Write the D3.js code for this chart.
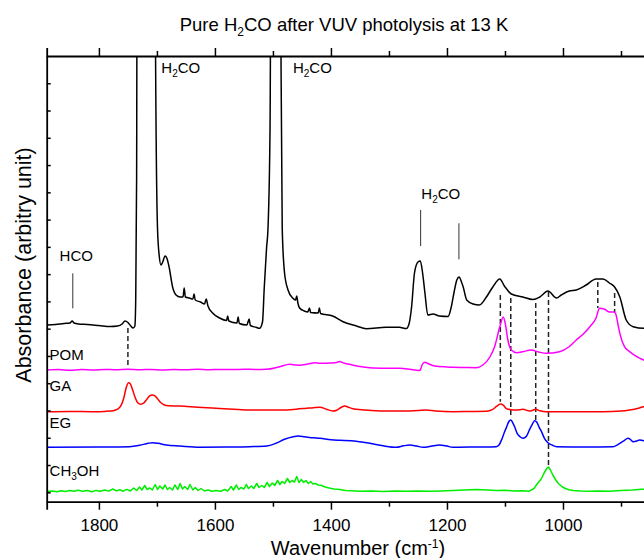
<!DOCTYPE html>
<html><head><meta charset="utf-8">
<script src="https://cdn.jsdelivr.net/npm/d3@7"></script>
<style>
body{margin:0;background:#fff;}
svg text{font-family:"Liberation Sans",Arial,sans-serif;}
</style></head>
<body><svg id="c" width="644" height="558"></svg>
<script>
// ---- data (wavenumber cm-1, absorbance above each trace's own baseline, arbitrary units) ----
const seriesNames = ["H2CO", "POM", "GA", "EG", "CH3OH"];
const seriesColors = ["#000000", "#ff00ff", "#ff0000", "#0000ff", "#00ee00"];
const seriesOffsets = [173.7, 131.7, 90, 54.4, 10.2];

const h2co = [[1890,3],[1875,3.5],[1860,4.5],[1850,5],[1846,7],[1843,5],[1835,4],[1820,3.5],[1800,2.5],[1780,1.5],[1768,2],[1760,4],[1755,7],[1750,5.5],[1745,2],[1741,0],[1738,2],[1736.5,30],[1735,150],[1733.5,600],[1704,600],[1702.5,290],[1699,100],[1696,72],[1693,63],[1690,66],[1686,72],[1683,70],[1679,61],[1673,41],[1667,33],[1660,31],[1655,31],[1653,40],[1651,31],[1644,30],[1638,29],[1636,34],[1634,28],[1625,26],[1618,24],[1615,29],[1612,22],[1604,15],[1592,10],[1580,7.5],[1578,12],[1576,7],[1562,5],[1560,11],[1558,4.5],[1545,3],[1541,9],[1539,2.5],[1529,0.7],[1523,-0.3],[1518,6],[1515,40],[1511,80],[1508.5,100],[1505,200],[1502,600],[1488,600],[1486,260],[1484,100],[1480,55],[1474,38],[1466,30],[1461,28],[1459,32],[1457,25],[1454,20],[1446,17],[1440,16],[1437,20],[1435,15.5],[1422,15],[1420,20],[1418,14.5],[1397,12],[1380,6.5],[1356,2],[1339,-0.7],[1305,0.7],[1282,0.7],[1270,-0.5],[1265,5],[1261,21],[1256,55],[1250,66],[1246,67],[1242,55],[1238,35],[1233,13],[1224,14],[1213,12],[1198,11.5],[1193,20],[1188,35],[1183,48],[1179,51],[1175,46],[1172,41],[1166,28],[1155,24],[1144,23],[1132,31],[1121,41],[1109,49],[1101,42],[1089,34],[1069,31],[1052,28.5],[1040,31],[1026,37],[1011,30],[1003,33],[989,37],[977,38],[960,43],[943,49],[931,49],[920,45],[911,41],[902,31],[891,8],[879,1.3],[861,-0.3],[850,0]];

const pom = [[1890,0],[1870,0.5],[1850,-0.3],[1830,0.4],[1810,0],[1790,0.6],[1770,0.2],[1750,0.8],[1730,0.2],[1710,0.6],[1690,0],[1670,0.5],[1650,0.2],[1630,0.7],[1610,0.3],[1590,0.6],[1570,0.4],[1550,0.8],[1530,0.5],[1511,0.7],[1490,3],[1471,5.7],[1460,5],[1454,4.7],[1440,6],[1428,7.3],[1419,6.7],[1400,7],[1390,7.5],[1385,8.5],[1378,7],[1368,5.7],[1350,3.5],[1333,2.3],[1300,1.8],[1282,1.7],[1264,0.7],[1249,-0.5],[1246,0],[1243,5],[1238,7.7],[1233,6.5],[1221,4],[1200,3],[1190,2.7],[1170,2.5],[1150,2.3],[1138,5],[1126,13],[1118,23],[1109,43],[1103,53],[1099,45],[1095,30],[1089,20],[1080,17.3],[1068,18.5],[1055,20],[1042,18],[1029,16.7],[1006,18.3],[990,23],[977,30],[965,36],[954,43],[943,52],[937,61.7],[928,60.7],[920,58],[912,58],[909,56],[905,45],[902,36.7],[894,23.3],[885,18.3],[879,15.7],[861,10],[850,8]];

const ga = [[1890,0],[1850,0.3],[1810,0],[1790,0.3],[1775,1],[1768,2.5],[1762,6],[1757,14],[1753,24],[1749,29],[1746,28],[1742,22],[1738,15],[1733,9],[1728,7.5],[1723,8.5],[1718,12],[1713,15.5],[1708,16.7],[1704,16],[1699,13],[1694,9.5],[1688,7],[1680,6],[1661,5.7],[1630,4.5],[1598,3.4],[1560,2.2],[1540,1.7],[1483,1.7],[1460,2.5],[1442,3.4],[1430,4],[1419,4.4],[1408,2.5],[1397,0.7],[1390,1.5],[1382,4.5],[1376,5.7],[1370,4.5],[1362,3],[1356,2.4],[1330,1.2],[1300,0.7],[1276,0.7],[1250,1.2],[1236,1.7],[1220,0.8],[1190,0],[1160,0.2],[1132,0.4],[1122,2],[1114,5.5],[1108,7.7],[1103,6.5],[1098,3.4],[1090,2],[1080,1.7],[1069,2.4],[1058,0.7],[1052,1.5],[1047,2.4],[1040,1],[1029,0],[990,0],[931,0],[900,0.6],[885,1.7],[870,3.5],[861,5],[850,6]];

const eg = [[1890,0],[1800,0.2],[1747,0.6],[1730,2],[1715,4],[1707,4.6],[1698,4],[1684,2.3],[1660,1.2],[1626,0],[1580,0.2],[1540,0.6],[1511,1.3],[1495,4],[1480,8],[1465,10.5],[1457,11.3],[1445,10.5],[1430,9.5],[1419,9],[1400,7.5],[1385,7],[1365,6.6],[1350,5.5],[1333,4],[1310,1.5],[1287,0],[1275,1.5],[1264,2.3],[1252,1.2],[1241,0],[1228,1],[1213,2.3],[1200,1.2],[1190,0],[1150,0.3],[1115,0.6],[1110,2.5],[1106,7.3],[1101,15],[1097,20.6],[1093,26],[1090,27.3],[1087,25],[1083,20],[1079,14],[1074,10.5],[1069,9],[1063,11],[1058,17.3],[1053,23],[1049,26.6],[1045,25],[1041,20],[1037,15.6],[1032,9],[1026,4.6],[1018,2],[1011,0.6],[960,0.2],[914,0.6],[906,2.5],[902,4],[895,6.5],[888,9],[884,8],[879,5.6],[874,6],[868,7.3],[861,6.6],[850,7]];

const ch3oh = [[1890,0],[1880,0.6],[1872,-0.3],[1865,0.8],[1858,0],[1850,1],[1843,0.2],[1836,1.2],[1828,0.3],[1820,0.9],[1812,-0.2],[1805,1.1],[1798,0.2],[1790,1.5],[1783,0.4],[1776,2.5],[1770,0.6],[1764,1.8],[1758,0.3],[1752,2.2],[1746,0.5],[1740,3.5],[1735,1],[1730,4.5],[1726,1.5],[1721,6],[1717,2],[1712,3.5],[1708,1.5],[1703,7],[1699,2],[1695,5.5],[1690,2.5],[1686,6.5],[1682,2],[1678,4],[1673,1.5],[1669,6.5],[1664,2],[1660,8],[1656,2.5],[1652,5],[1647,2],[1643,7],[1638,1.5],[1634,4],[1629,1],[1624,3],[1618,0.5],[1612,1.5],[1605,0.2],[1598,1],[1590,0.3],[1583,2],[1578,0.5],[1572,5],[1568,1.5],[1563,6.5],[1559,2],[1555,4],[1550,2.5],[1546,7],[1542,3],[1537,5.5],[1533,3],[1528,8],[1524,4],[1519,6],[1515,4],[1510,9],[1506,5],[1501,8.5],[1497,6],[1492,11],[1488,7],[1484,10],[1480,8],[1475,13],[1471,9],[1467,11],[1463,9.5],[1459,15],[1455,9],[1451,12],[1447,9],[1443,11],[1439,8],[1435,10],[1431,7.5],[1427,8],[1422,6.5],[1416,6],[1410,4.5],[1403,3.5],[1395,2.5],[1385,2],[1375,1],[1365,0.8],[1350,0.3],[1330,0.6],[1310,0],[1290,0.5],[1270,0.2],[1250,0.6],[1230,0.2],[1210,0.5],[1190,1],[1170,1.5],[1150,2],[1130,1.5],[1115,1],[1100,1.3],[1085,0.5],[1070,0.8],[1058,0.3],[1050,3],[1044,8],[1038,12],[1033,18],[1028,23],[1025,24.5],[1022,22],[1018,17],[1013,12],[1008,8],[1002,5],[996,3],[990,1.8],[982,1],[970,0.5],[955,0.2],[940,0.6],[920,0.3],[900,1],[880,1.5],[865,2.2],[850,2]];

const seriesData = [h2co, pom, ga, eg, ch3oh];

// dashed guide lines: wavenumber, top, bottom (absolute units)
const guideWn = [1750, 1108, 1090, 1047, 1025, 940, 911];
const guideTop = [173.7, 206.7, 203.7, 198.7, 209.7, 219.7, 208.7];
const guideBottom = [135.7, 100, 83.7, 81.7, 35, 193.7, 189.7];

// H2CO / HCO marker sticks
const stickWn = [1845, 1245.4, 1179.4];
const stickTop = [228.4, 291.7, 278.4];
const stickBottom = [193.4, 255.7, 242.4];

const xMajor = [1800, 1600, 1400, 1200, 1000];
const xMinor = [1700, 1500, 1300, 1100, 900];
const yTicks = d3.range(16).map(k => 9.4 + 27.27 * k);

// ---- drawing ----
const svg = d3.select("#c");
const L = 46.7, T = 56, B = 501.7, R = 650;
const x = d3.scaleLinear().domain([1890, 850]).range([L, R]);
const y = d3.scaleLinear().domain([0, 445.7]).range([B, T]);

svg.append("defs").append("clipPath").attr("id", "clip")
  .append("rect").attr("x", L).attr("y", T).attr("width", R - L).attr("height", B - T);

const plot = svg.append("g").attr("clip-path", "url(#clip)");

guideWn.forEach((w, i) => {
  plot.append("line").attr("x1", x(w)).attr("x2", x(w))
    .attr("y1", y(guideTop[i])).attr("y2", y(guideBottom[i]))
    .attr("stroke", "#222").attr("stroke-width", 1.5).attr("stroke-dasharray", "5,3");
});

seriesData.forEach((d, i) => {
  const line = d3.line()
    .x(p => x(p[0]))
    .y(p => y(p[1] + seriesOffsets[i]))
    .curve(i === 4 ? d3.curveLinear : d3.curveMonotoneX);
  plot.append("path").datum(d).attr("d", line)
    .attr("fill", "none").attr("stroke", seriesColors[i]).attr("stroke-width", 1.5)
    .attr("stroke-linejoin", "round");
});

stickWn.forEach((w, i) => {
  plot.append("line").attr("x1", x(w)).attr("x2", x(w))
    .attr("y1", y(stickTop[i])).attr("y2", y(stickBottom[i]))
    .attr("stroke", "#333").attr("stroke-width", 1);
});

const axG = svg.append("g");
function styleAxis(g) {
  g.select(".domain").attr("stroke-width", 1.8);
  g.selectAll(".tick line").attr("stroke-width", 1.5);
}
axG.append("g").attr("transform", `translate(0,${B})`)
  .call(d3.axisBottom(x).tickValues(xMajor).tickSize(8).tickPadding(9).tickFormat(d3.format("d")))
  .call(styleAxis)
  .call(g => g.selectAll("text").attr("font-size", 17).attr("font-family", "Liberation Sans, Arial, sans-serif").attr("fill", "#000"));
axG.append("g").attr("transform", `translate(0,${B})`)
  .call(d3.axisBottom(x).tickValues(xMinor).tickSize(5).tickFormat(""))
  .call(g => g.select(".domain").remove()).call(styleAxis);
axG.append("g").attr("transform", `translate(0,${T})`)
  .call(d3.axisTop(x).tickValues(xMajor).tickSize(8).tickFormat(""))
  .call(styleAxis);
axG.append("g").attr("transform", `translate(0,${T})`)
  .call(d3.axisTop(x).tickValues(xMinor).tickSize(5).tickFormat(""))
  .call(g => g.select(".domain").remove()).call(styleAxis);
axG.append("g").attr("transform", `translate(${L},0)`)
  .call(d3.axisLeft(y).tickValues(yTicks).tickSize(-4).tickSizeOuter(0).tickFormat(""))
  .call(styleAxis);

const title = svg.append("text").attr("x", 344).attr("y", 31).attr("text-anchor", "middle")
  .attr("font-size", 18.5).attr("fill", "#000");
title.append("tspan").text("Pure H");
title.append("tspan").text("2").attr("font-size", 12).attr("dy", 5);
title.append("tspan").text("CO after VUV photolysis at 13 K").attr("dy", -5);

const xt = svg.append("text").attr("x", 358).attr("y", 555).attr("text-anchor", "middle")
  .attr("font-size", 20).attr("fill", "#000");
xt.append("tspan").text("Wavenumber (cm");
xt.append("tspan").text("-1").attr("font-size", 12).attr("dy", -7);
xt.append("tspan").text(")").attr("dy", 7);

svg.append("text").attr("transform", "translate(31,265) rotate(-90)").attr("text-anchor", "middle")
  .attr("font-size", 21.5).attr("fill", "#000").text("Absorbance (arbitry unit)");

function subLabel(w, v, parts, anchor) {
  const t = svg.append("text").attr("x", x(w)).attr("y", y(v)).attr("font-size", 15)
    .attr("text-anchor", anchor || "start").attr("fill", "#000");
  parts.forEach(p => {
    const s = t.append("tspan").text(p[0]);
    if (p[1] === "sub") s.attr("font-size", 10).attr("dy", 4);
    if (p[1] === "up") s.attr("dy", -4);
  });
}
subLabel(1839, 240.7, [["HCO"]], "middle");
subLabel(1692.4, 428.7, [["H"], ["2", "sub"], ["CO", "up"]]);
subLabel(1465.5, 428.7, [["H"], ["2", "sub"], ["CO", "up"]]);
subLabel(1244.2, 302.7, [["H"], ["2", "sub"], ["CO", "up"]]);

const seriesLabelV = [141.7, 110.3, 74, 26.2];
subLabel(1885, seriesLabelV[0], [["POM"]]);
subLabel(1885, seriesLabelV[1], [["GA"]]);
subLabel(1885, seriesLabelV[2], [["EG"]]);
subLabel(1885, seriesLabelV[3], [["CH"], ["3", "sub"], ["OH", "up"]]);
</script></body></html>
